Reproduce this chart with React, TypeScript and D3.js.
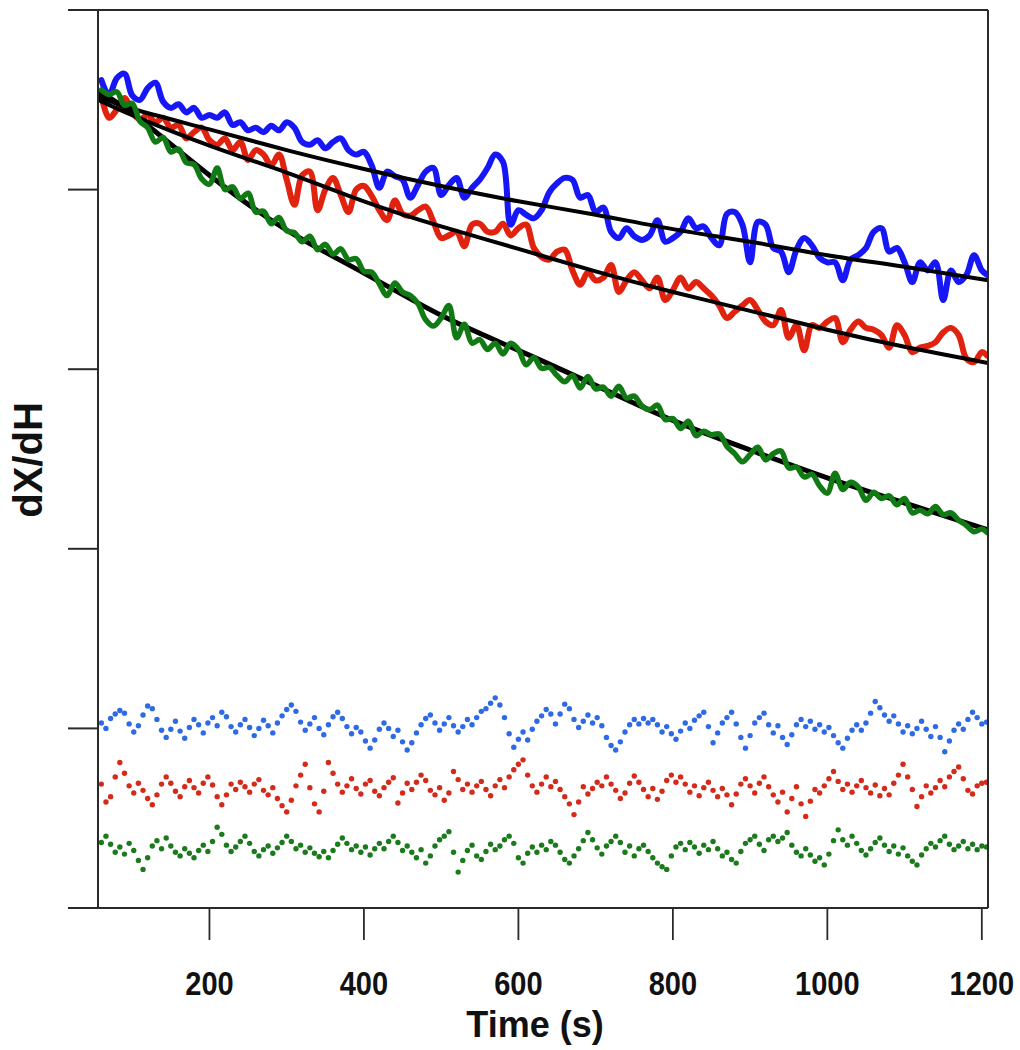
import React from "react";
import * as d3 from "d3";

const W = 1020;
const H = 1050;

const xTicks = [200, 400, 600, 800, 1000, 1200];
const yTicks = [0, 20, 40, 60, 80, 100];
const xLabel = "Time (s)";
const yLabel = "dX/dH";

// sampling grids (s)
const mainTimes = [...d3.range(60, 1201, 10), 1207];
const residualTimes = d3.range(60, 1207, 6);
const fitTimes = [56, 100, 200, 300, 400, 500, 600, 700, 800, 900, 1000, 1100, 1208];

const blueData = [
  92.2, 90.5, 92.4, 92.9, 90.5, 90.0, 91.3, 91.9, 89.8, 89.1,
  89.5, 88.6, 89.1, 88.0, 88.3, 88.0, 88.6, 87.2, 87.5, 86.6,
  86.9, 86.4, 87.1, 86.6, 87.5, 86.9, 85.3, 85.0, 85.5, 84.6,
  85.3, 85.7, 84.4, 83.9, 84.2, 82.7, 80.2, 82.0, 81.5, 81.1,
  79.1, 80.5, 82.0, 82.4, 79.4, 80.5, 81.3, 79.1, 80.2, 81.1,
  82.4, 83.9, 83.1, 76.1, 77.7, 77.2, 76.8, 77.7, 79.7, 80.7,
  81.3, 81.1, 79.1, 79.4, 77.5, 78.0, 75.3, 74.6, 75.7, 74.8,
  74.4, 74.9, 76.6, 74.2, 74.6, 75.3, 76.8, 75.7, 75.9, 74.6,
  73.8, 77.3, 77.5, 76.1, 71.9, 76.4, 76.1, 73.5, 73.1, 70.8,
  73.3, 74.6, 73.8, 72.4, 71.9, 71.9, 69.9, 72.2, 72.7, 73.5,
  75.3, 75.7, 73.1, 73.5, 71.9, 69.7, 71.9, 71.0, 71.9, 67.7,
  71.0, 69.7, 70.5, 72.7, 71.0, 70.5,
];

const redData = [
  90.5, 88.0, 88.9, 90.2, 88.6, 87.8, 88.3, 87.5, 88.0, 86.9,
  87.2, 85.7, 86.4, 86.9, 85.5, 85.0, 85.7, 84.4, 85.3, 83.3,
  84.4, 83.9, 82.7, 83.9, 81.1, 78.3, 81.6, 82.0, 77.7, 80.0,
  81.3, 79.4, 77.5, 80.0, 80.4, 79.3, 77.7, 76.6, 78.8, 77.3,
  77.1, 77.7, 78.1, 76.4, 74.6, 74.9, 75.3, 73.7, 76.1, 76.2,
  75.3, 75.3, 76.2, 74.9, 75.7, 76.1, 73.5, 72.5, 72.2, 73.1,
  73.3, 71.0, 69.4, 70.8, 69.9, 70.2, 71.6, 68.6, 69.9, 70.8,
  69.9, 69.0, 70.2, 67.7, 68.8, 70.2, 69.0, 69.7, 69.0, 68.2,
  67.1, 65.7, 66.4, 67.1, 67.7, 66.6, 65.3, 64.9, 66.6, 63.5,
  64.9, 62.1, 64.9, 64.6, 65.3, 65.7, 63.0, 64.4, 65.3, 64.6,
  64.4, 63.8, 62.4, 64.9, 63.8, 61.9, 62.4, 62.6, 63.0, 64.1,
  64.6, 63.8, 61.2, 60.8, 61.9, 61.5,
];

const greenData = [
  91.1, 90.6, 90.9, 89.4, 89.6, 87.6, 86.9, 85.3, 85.8, 84.2,
  84.5, 83.0, 82.8, 81.2, 80.6, 82.4, 80.0, 80.3, 79.0, 79.6,
  77.5, 77.6, 76.2, 76.9, 75.4, 75.2, 74.2, 74.8, 73.3, 73.9,
  72.8, 73.4, 72.2, 72.3, 70.9, 70.8, 69.5, 68.2, 69.6, 68.6,
  68.2, 67.3, 65.5, 64.8, 65.7, 67.1, 63.5, 65.0, 62.9, 63.3,
  62.2, 62.9, 61.7, 62.9, 62.2, 60.5, 61.3, 60.1, 60.2, 59.3,
  58.6, 59.3, 57.9, 59.2, 57.8, 58.0, 57.0, 58.1, 56.8, 57.0,
  55.9, 55.5, 56.0, 54.4, 54.5, 53.4, 54.2, 52.6, 53.1, 52.7,
  52.8, 51.4, 50.6, 49.7, 50.5, 51.3, 49.9, 50.6, 50.9, 49.0,
  49.1, 48.0, 48.3, 47.0, 46.2, 48.4, 46.6, 47.4, 46.9, 45.4,
  46.3, 45.6, 45.9, 44.9, 45.6, 44.0, 44.3, 43.9, 44.7, 43.8,
  44.0, 43.2, 42.6, 41.9, 42.2, 41.8,
];

const blueFit = [90.4, 89.0, 86.7, 84.4, 82.3, 80.4, 78.7, 77.2, 75.6, 74.2, 72.7, 71.4, 69.9];
const redFit = [90.0, 88.3, 84.9, 81.9, 78.7, 75.9, 73.4, 70.9, 68.6, 66.5, 64.4, 62.5, 60.7];
const greenFit = [90.9, 88.5, 81.6, 75.5, 70.7, 66.0, 62.1, 58.2, 54.3, 51.0, 47.9, 45.1, 42.1];

const blueResidual = [
  20.6, 20.0, 21.1, 21.6, 22.0, 21.7, 20.5, 19.6, 20.3, 21.5,
  22.5, 22.2, 21.0, 19.8, 19.0, 19.9, 20.8, 19.7, 18.9, 20.1,
  21.0, 20.4, 19.5, 20.6, 21.2, 20.3, 21.8, 21.3, 20.2, 19.6,
  20.4, 21.0, 20.1, 19.2, 20.0, 20.9, 20.3, 19.5, 20.6, 21.4,
  22.1, 22.6, 21.9, 20.7, 19.8, 20.5, 21.2, 20.0, 19.3, 20.4,
  21.3, 21.8, 21.1, 20.2, 19.4, 20.1, 19.6, 18.6, 17.8, 18.7,
  19.9, 20.6, 20.0, 19.1, 19.8, 18.5, 17.6, 18.4, 19.5, 20.4,
  21.1, 21.5, 20.6, 19.8, 20.5, 21.2, 20.3, 19.6, 20.2, 21.0,
  20.4, 21.2, 21.9, 22.2, 22.8, 23.4, 22.6, 21.2, 19.4, 17.9,
  18.8, 19.6, 18.7, 19.9, 20.8, 21.4, 22.1, 21.6, 20.5, 21.6,
  22.7, 22.2, 21.0, 20.1, 20.8, 21.5, 20.6, 21.2, 20.3, 19.0,
  18.1, 17.6, 18.5, 19.6, 20.4, 21.0, 20.5, 21.1, 20.6, 21.0,
  20.4, 19.6, 20.2, 19.4, 18.8, 19.7, 20.6, 20.0, 20.9, 21.4,
  21.8, 20.2, 18.4, 19.5, 20.6, 21.2, 21.8, 20.5, 19.0, 17.8,
  19.2, 20.6, 21.2, 21.7, 20.4, 19.5, 20.3, 19.0, 18.2, 19.3,
  20.4, 21.0, 20.2, 20.8, 19.9, 20.4, 19.6, 20.1, 19.2, 18.4,
  17.8, 18.9, 19.8, 20.4, 19.8, 20.6, 21.7, 23.0, 22.3, 21.5,
  20.8, 21.4, 20.5, 19.6, 20.3, 19.4, 20.0, 20.8, 19.9, 19.1,
  20.2, 19.0, 17.4, 18.6, 19.8, 20.5, 19.9, 21.0, 21.8, 21.2,
  20.5, 20.7,
];

const redResidual = [
  13.8, 11.8, 12.4, 14.6, 16.2, 15.0, 13.6, 12.8, 13.9, 13.1,
  12.2, 11.5, 12.6, 13.8, 14.6, 13.9, 13.0, 12.4, 13.5, 14.2,
  13.4, 12.8, 13.9, 14.6, 13.7, 12.4, 11.5, 12.6, 13.8, 13.2,
  14.0, 13.5, 12.9, 13.8, 14.3, 13.1, 12.6, 13.4, 12.2, 11.4,
  10.7, 12.0, 13.6, 14.8, 16.0, 13.4, 11.6, 10.7, 13.0, 16.2,
  15.0, 13.8, 12.9, 13.6, 14.4, 13.3, 12.7, 13.8, 14.2, 13.0,
  12.5, 13.4, 14.0, 14.5, 11.7, 12.8, 13.9, 13.2, 14.0, 14.8,
  14.2, 13.1, 12.6, 13.4, 12.0, 12.8, 15.2, 14.3, 13.2, 13.8,
  12.9, 13.6, 14.1, 13.2, 12.5, 13.6, 14.3, 13.4, 14.6, 15.4,
  16.0, 16.5, 14.8, 13.6, 12.9, 13.8, 14.6, 13.5, 14.1, 13.2,
  12.4, 11.6, 10.4, 11.8, 13.5, 12.7, 13.3, 14.0, 13.6, 14.6,
  13.8, 13.1, 12.2, 12.8, 13.9, 14.7, 14.0, 13.2, 12.4, 13.3,
  12.1, 13.0, 14.2, 14.8, 14.0, 14.6, 13.8, 12.9, 13.6, 12.5,
  13.4, 14.0, 13.1, 12.4, 13.3, 12.6, 11.5, 12.7, 13.8, 14.4,
  13.6, 12.8, 13.9, 14.6, 13.5, 12.6, 11.8, 12.9, 10.7, 12.2,
  13.5, 11.6, 10.2, 11.9, 13.2, 12.8, 13.6, 14.4, 15.2, 14.1,
  13.2, 13.8, 12.9, 13.6, 14.2, 13.4, 12.8, 13.7, 12.5, 13.3,
  12.6, 13.9, 14.8, 16.0, 14.6, 13.2, 11.3, 12.4, 13.6, 12.8,
  13.4, 14.2, 13.5, 14.6, 15.2, 15.7, 14.4, 13.1, 12.7, 13.6,
  13.9, 14.0,
];

const greenResidual = [
  7.3, 8.0, 7.1, 6.2, 6.8, 6.0, 7.2, 6.4, 5.3, 4.3,
  5.6, 6.9, 7.5, 6.6, 7.8, 6.9, 6.2, 5.8, 6.6, 6.1,
  5.6, 6.4, 7.0, 6.3, 7.4, 9.0, 8.2, 7.0, 6.3, 6.8,
  7.4, 8.0, 7.2, 6.3, 5.8, 6.5, 6.9, 6.1, 6.7, 7.3,
  8.0, 7.4, 6.6, 7.0, 6.2, 6.7, 6.1, 5.7, 6.3, 5.6,
  6.4, 7.1, 7.8, 7.2, 6.5, 6.9, 6.2, 6.8, 5.9, 6.6,
  7.2, 6.6, 7.4, 8.0, 7.3, 6.4, 6.9, 6.2, 5.6, 6.5,
  5.0, 5.8, 6.9, 7.6, 8.0, 8.5, 6.2, 4.0, 5.3, 6.4,
  7.0, 5.8, 5.4, 6.3, 7.1, 6.5, 6.9, 7.6, 8.0, 7.2,
  5.6, 5.0, 6.1, 6.8, 6.2, 7.0, 6.5, 7.4, 7.0, 6.2,
  5.4, 5.0, 5.8, 6.6, 7.5, 8.4, 7.6, 6.7, 6.0, 6.9,
  7.4, 8.0, 7.3, 6.2, 6.9, 5.8, 6.6, 7.0, 6.3, 5.6,
  5.0, 4.6, 4.3, 5.8, 6.8, 7.2, 6.5, 7.3, 6.8, 6.1,
  7.0, 6.5, 7.4, 6.6, 5.8, 6.2, 5.4, 5.0, 6.3, 7.2,
  7.6, 8.0, 7.1, 6.4, 7.6, 8.0, 7.4, 7.8, 8.4, 7.0,
  6.2, 5.8, 6.6, 5.9, 5.2, 5.6, 4.8, 6.0, 7.5, 8.7,
  7.6, 7.0, 8.0, 7.2, 6.4, 5.9, 6.6, 7.3, 7.8, 7.0,
  6.3, 6.9, 6.0, 6.7, 5.8, 5.2, 4.8, 5.9, 6.6, 7.2,
  6.8, 7.5, 8.0, 7.1, 6.5, 6.9, 7.4, 6.6, 7.1, 6.5,
  6.9, 6.8,
];

const series = [
  { name: "red", data: redData, fit: redFit, resid: redResidual, line: "#e0220f", dot: "#d42a1a" },
  { name: "blue", data: blueData, fit: blueFit, resid: blueResidual, line: "#1616f6", dot: "#2e6ae6" },
  { name: "green", data: greenData, fit: greenFit, resid: greenResidual, line: "#127a14", dot: "#1b7a1b" },
];

const FONT = "'Liberation Sans', Arial, Helvetica, sans-serif";

export default function App() {
  const left = 98, right = 988, top = 10, bottom = 908;
  const x = d3.scaleLinear().domain([55.7, 1208]).range([left, right]);
  const y = d3.scaleLinear().domain([0, 100]).range([bottom, top]);

  const dataLine = d3
    .line<number>()
    .x((_, i) => x(mainTimes[i]))
    .y((d) => y(d))
    .curve(d3.curveCatmullRom.alpha(0.5));
  const fitLine = d3
    .line<number>()
    .x((_, i) => x(fitTimes[i]))
    .y((d) => y(d))
    .curve(d3.curveNatural);

  const red = series[0], blue = series[1], green = series[2];

  return (
    <div style={{ position: "absolute", left: 0, top: 0 }}>
      <svg width={W} height={H} style={{ display: "block", background: "#fff" }}>
        <defs>
          <clipPath id="plotClip">
            <rect x={left} y={top} width={right - left} height={bottom - top} />
          </clipPath>
        </defs>

        {/* residual dots */}
        <g clipPath="url(#plotClip)">
          {series.map((s) =>
            s.resid.map((v, i) => (
              <circle key={s.name + "r" + i} cx={x(residualTimes[i])} cy={y(v)} r={2.7} fill={s.dot} />
            ))
          )}
        </g>

        {/* data lines and fits */}
        <g clipPath="url(#plotClip)" fill="none" strokeLinejoin="round" strokeLinecap="round">
          <path d={dataLine(red.data) || ""} stroke={red.line} strokeWidth={6} />
          <path d={dataLine(blue.data) || ""} stroke={blue.line} strokeWidth={6} />
          <path d={fitLine(blue.fit) || ""} stroke="#000" strokeWidth={4} />
          <path d={fitLine(red.fit) || ""} stroke="#000" strokeWidth={4} />
          <path d={fitLine(green.fit) || ""} stroke="#000" strokeWidth={5} />
          <path d={dataLine(green.data) || ""} stroke={green.line} strokeWidth={5.5} />
        </g>

        {/* frame */}
        <g stroke="#2a2a2a" strokeWidth={2} fill="none">
          <line x1={left} x2={left} y1={top} y2={bottom} />
          <line x1={right} x2={right} y1={top} y2={bottom} />
          <line x1={left} x2={right} y1={top} y2={top} />
          <line x1={left} x2={right} y1={bottom} y2={bottom} />
        </g>

        {/* y ticks (unlabelled) */}
        <g stroke="#2a2a2a" strokeWidth={2}>
          {yTicks.map((t) => (
            <line key={"yt" + t} x1={68} x2={left} y1={y(t)} y2={y(t)} />
          ))}
        </g>

        {/* x ticks */}
        <g stroke="#2a2a2a" strokeWidth={1.8}>
          {xTicks.map((t) => (
            <line key={"xt" + t} x1={x(t)} x2={x(t)} y1={bottom} y2={bottom + 32} />
          ))}
        </g>
        <g fontFamily={FONT} fontWeight="bold" fontSize={33} fill="#111" textAnchor="middle">
          {xTicks.map((t) => (
            <g key={"xl" + t} transform={`translate(${x(t)},${995}) scale(0.88,1)`}>
              <text x={0} y={0}>{t}</text>
            </g>
          ))}
        </g>

        <text
          x={535}
          y={1037}
          textAnchor="middle"
          fontFamily={FONT}
          fontWeight="bold"
          fontSize={36}
          fill="#111"
        >
          {xLabel}
        </text>
        <text
          transform="translate(42,460) rotate(-90)"
          textAnchor="middle"
          fontFamily={FONT}
          fontWeight="bold"
          fontSize={40}
          fill="#111"
        >
          {yLabel}
        </text>
      </svg>
    </div>
  );
}
